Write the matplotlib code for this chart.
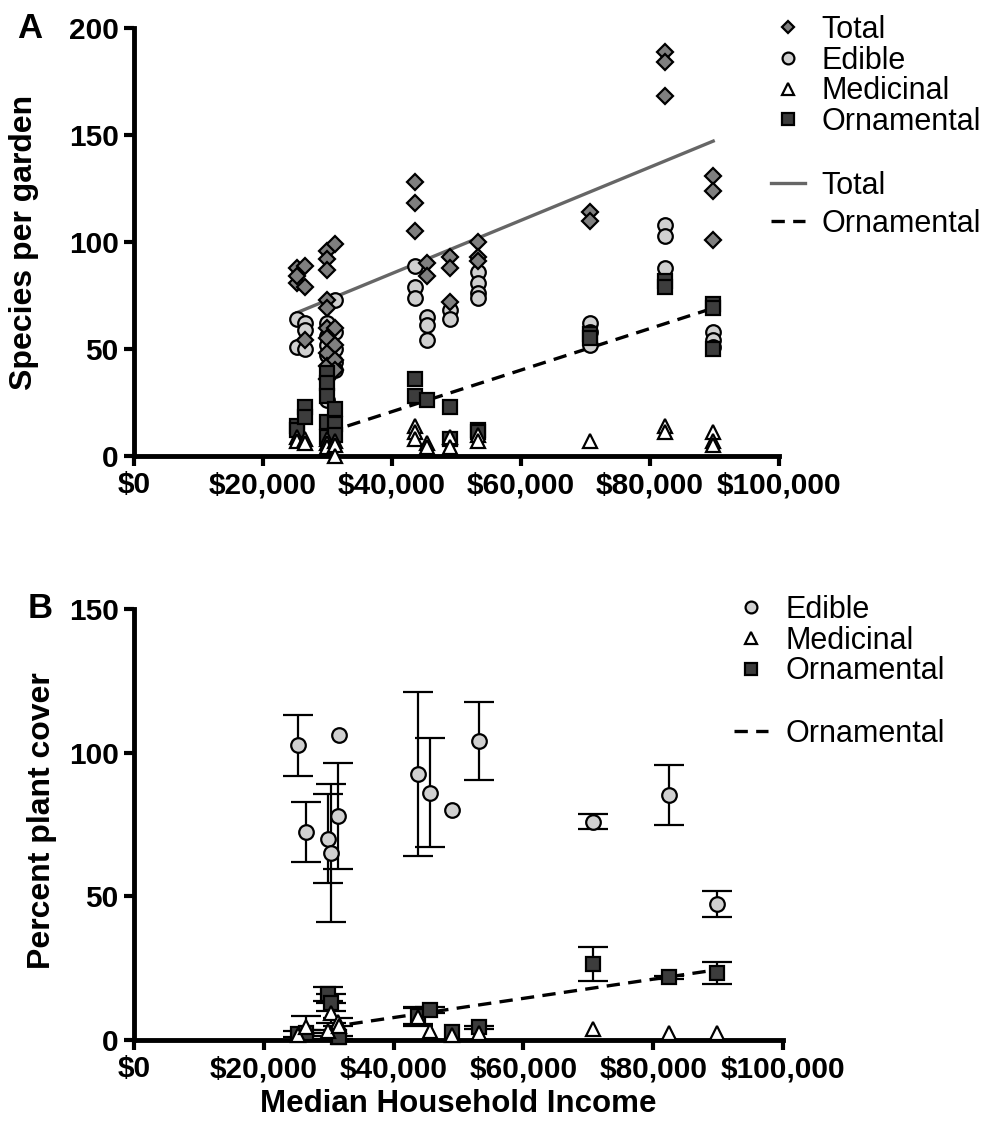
import numpy as np
import matplotlib
matplotlib.use("Agg")
import matplotlib.pyplot as plt
from matplotlib.lines import Line2D
from matplotlib.ticker import FuncFormatter

plt.rcParams['font.family'] = ['Liberation Sans', 'DejaVu Sans']

# ----- Panel A: species per garden (one point per garden) -----
total_x = [25300] * 3 + [26500] * 3 + [29900] * 10 + [31200] * 5 + [43500] * 3 + [45500] * 2 \
    + [49000] * 3 + [53300] * 3 + [70700] * 2 + [82300] * 3 + [89800] * 3
total_y = [88, 81, 84, 89, 79, 54,
           96, 92, 87, 73, 69, 60, 55, 48, 42, 36,
           99, 60, 52, 45, 40,
           128, 118, 105, 90, 84, 93, 88, 72, 100, 93, 91,
           114, 110, 189, 184, 168, 131, 124, 101]

edible_x = [25300] * 2 + [26500] * 3 + [29900] * 5 + [31200] * 5 + [43500] * 3 + [45500] * 3 \
    + [49000] * 2 + [53300] * 4 + [70700] * 3 + [82300] * 3 + [89800] * 3
edible_y = [64, 51, 62, 59, 50,
            62, 56, 52, 47, 26,
            73, 58, 50, 44, 40,
            89, 79, 74, 65, 61, 54, 68, 64, 86, 81, 76, 74,
            62, 58, 52, 108, 103, 88, 58, 54, 51]

orn_x = [25300] * 2 + [26500] * 2 + [29900] * 5 + [31200] * 3 + [43500] * 2 + [45500] \
    + [49000] * 2 + [53300] * 2 + [70700] * 2 + [82300] * 2 + [89800] * 3
orn_y = [14, 12, 23, 18,
         39, 34, 28, 16, 9,
         22, 15, 10,
         36, 28, 26, 23, 8, 12, 11,
         57, 55, 82, 79, 71, 69, 50]

med_x = [25300] * 2 + [26500] * 2 + [29900] * 3 + [31200] * 3 + [43500] * 3 + [45500] * 2 \
    + [49000] * 2 + [53300] * 2 + [70700] + [82300] * 2 + [89800] * 3
med_y = [9, 7, 8, 6,
         8, 6, 4,
         7, 5, 0,
         14, 11, 8, 6, 4, 9, 4, 10, 7,
         7, 14, 11, 11, 7, 5]

# fitted lines (intercept, slope) and x range
fit_total = (35.6, 0.0012422)
fit_total_range = (25300, 89800)
fit_orn_a = (-18.1, 0.000971)
fit_orn_a_range = (29900, 89800)

# ----- Panel B: percent plant cover (mean +/- SE per site) -----
site_x = [25300, 26500, 29900, 30400, 31400, 31600, 43700, 45600, 49000, 53200, 70700, 82400, 89800]
cover_edible = [102.5, 72.5, 70, 65, 78, 106, 92.5, 86, 80, 104, 76, 85.3, 47.3]
cover_edible_se = [10.5, 10.5, 15.5, 24, 18.5, 0, 28.5, 19, 0, 13.5, 2.5, 10.3, 4.5]
cover_orn = [2, 2.5, 16, 13, 1, 1, 8.5, 10.5, 2.8, 4.5, 26.5, 21.8, 23.3]
cover_orn_se = [1, 1, 2.5, 3, 0.5, 0, 3, 1, 0, 0.5, 6, 0.5, 3.7]
cover_med = [1.7, 4.5, 3, 9.5, 6.3, 5, 8, 3, 1.7, 2.3, 3.7, 2.4, 2.4]
cover_med_se = [0, 4, 0.5, 3.5, 1.5, 0, 3, 0, 0, 0, 0, 0, 0]

fit_orn_b = (-5.55, 0.000334)
fit_orn_b_range = (29900, 89800)

# marker styles
ec = 'black'
mew = 1.6
sty_total = dict(marker='D', ms=7.8, mfc='#7f7f7f', mec=ec, mew=mew, ls='none')
sty_edible = dict(marker='o', ms=10.5, mfc='#d0d0d0', mec=ec, mew=mew, ls='none')
sty_orn = dict(marker='s', ms=10, mfc='#3c3c3c', mec=ec, mew=mew, ls='none')
sty_med = dict(marker='^', ms=10, mfc='white', mec=ec, mew=mew, ls='none')
dash = (0, (4, 2.5))

fig = plt.figure(figsize=(9.84, 11.27), dpi=100)
W, H = 984, 1127
axA = fig.add_axes([134 / W, 1 - 456 / H, 645 / W, 428 / H])
axB = fig.add_axes([134 / W, 1 - 1040 / H, 649 / W, 431 / H])

money = FuncFormatter(lambda v, p: f"${v:,.0f}")


def style_axis(ax, ymax, yticks):
    ax.set_xlim(0, 100000)
    ax.set_ylim(0, ymax)
    for s in ['top', 'right']:
        ax.spines[s].set_visible(False)
    for s in ['left', 'bottom']:
        ax.spines[s].set_linewidth(3.5)
    ax.set_xticks(np.arange(0, 100001, 20000))
    ax.set_yticks(yticks)
    ax.xaxis.set_major_formatter(money)
    ax.tick_params(direction='out', length=7, width=3, labelsize=21.5, pad=4)
    for lab in ax.get_xticklabels() + ax.get_yticklabels():
        lab.set_fontweight('bold')


def fit_line(ax, fit, rng, **kw):
    xs = np.array(rng)
    ax.plot(xs, fit[0] + fit[1] * xs, **kw)


def error_bars(ax, x, y, se):
    # sites with a single garden have no error bar
    x, y, se = np.array(x), np.array(y), np.array(se)
    keep = se > 0
    ax.errorbar(x[keep], y[keep], yerr=se[keep], fmt='none', ecolor='black',
                elinewidth=1.6, capsize=11, capthick=1.6, clip_on=False, zorder=3)


def legend(ax, handles, labels, x, y, spacing=0.05, pad=0.55):
    return ax.legend(handles=handles, labels=labels, loc='upper left',
                     bbox_to_anchor=(x / W, 1 - y / H), bbox_transform=fig.transFigure,
                     frameon=False, fontsize=22, handlelength=1.1, handletextpad=pad,
                     labelspacing=spacing, borderpad=0, borderaxespad=0)


# ----- Panel A -----
style_axis(axA, 200, [0, 50, 100, 150, 200])
fit_line(axA, fit_total, fit_total_range, color='#666666', lw=2.4, zorder=2)
fit_line(axA, fit_orn_a, fit_orn_a_range, color='black', lw=2.4, ls=dash, zorder=2)
axA.plot(edible_x, edible_y, zorder=3, clip_on=False, **sty_edible)
axA.plot(total_x, total_y, zorder=4, clip_on=False, **sty_total)
axA.plot(orn_x, orn_y, zorder=5, clip_on=False, **sty_orn)
axA.plot(med_x, med_y, zorder=6, clip_on=False, **sty_med)
axA.set_ylabel("Species per garden", fontsize=23, fontweight='bold')
axA.yaxis.set_label_coords(-0.147, 0.5)

legA1 = legend(axA,
               [Line2D([], [], **dict(sty_total, ms=6.5)),
                Line2D([], [], **dict(sty_edible, ms=8.5)),
                Line2D([], [], **dict(sty_med, ms=8)),
                Line2D([], [], **dict(sty_orn, ms=8))],
               ["Total", "Edible", "Medicinal", "Ornamental"], 771, 15, spacing=0.02)
axA.add_artist(legA1)
legend(axA,
       [Line2D([], [], color='#666666', lw=2.4),
        Line2D([], [], color='black', lw=2.4, ls=dash)],
       ["Total", "Ornamental"], 771, 171, spacing=0.25)

# ----- Panel B -----
style_axis(axB, 150, [0, 50, 100, 150])
fit_line(axB, fit_orn_b, fit_orn_b_range, color='black', lw=2.4, ls=dash, zorder=2)
error_bars(axB, site_x, cover_edible, cover_edible_se)
error_bars(axB, site_x, cover_orn, cover_orn_se)
error_bars(axB, site_x, cover_med, cover_med_se)
axB.plot(site_x, cover_edible, zorder=4, clip_on=False, **sty_edible)
axB.plot(site_x, cover_orn, zorder=5, clip_on=False, **sty_orn)
axB.plot(site_x, cover_med, zorder=6, clip_on=False, **sty_med)
axB.set_ylabel("Percent plant cover", fontsize=23, fontweight='bold')
axB.yaxis.set_label_coords(-0.118, 0.51)
axB.set_xlabel("Median Household Income", fontsize=22.5, fontweight='bold')
axB.xaxis.set_label_coords(0.5, -0.114)

legB1 = legend(axB,
               [Line2D([], [], **dict(sty_edible, ms=8.5)),
                Line2D([], [], **dict(sty_med, ms=8)),
                Line2D([], [], **dict(sty_orn, ms=8))],
               ["Edible", "Medicinal", "Ornamental"], 734, 595, spacing=0.02, pad=0.6)
axB.add_artist(legB1)
legend(axB, [Line2D([], [], color='black', lw=2.4, ls=dash)],
       ["Ornamental"], 734, 719, pad=0.6)

# panel letters
fig.text(30 / W, 1 - 28 / H, "A", fontsize=25, fontweight='bold', ha='center', va='center')
fig.text(40 / W, 1 - 608 / H, "B", fontsize=25, fontweight='bold', ha='center', va='center')

fig.savefig("out.png", dpi=100)
